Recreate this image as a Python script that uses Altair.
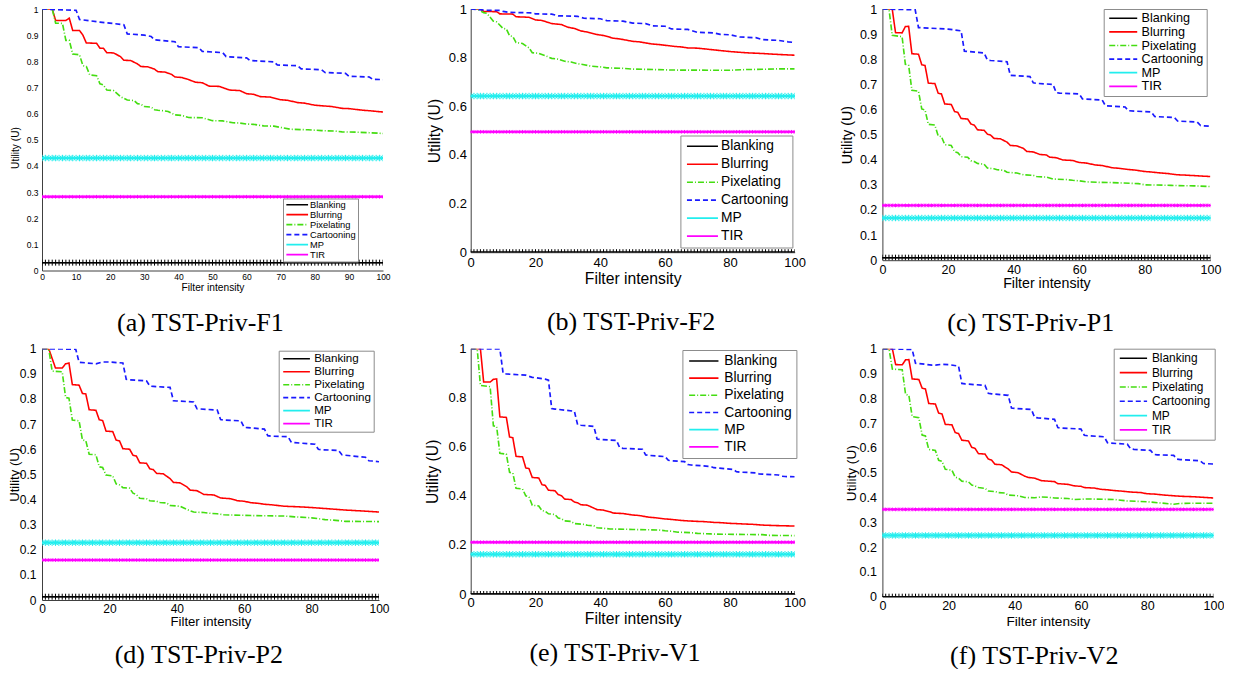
import math
import altair as alt
import pandas as pd

SANS = "Liberation Sans"
SERIF = "Liberation Serif"

SERIES = ["Blanking", "Blurring", "Pixelating", "Cartooning", "MP", "TIR"]
COLORS = ["#000000", "#ff0000", "#44dd11", "#1a1aff", "#22eeee", "#ff00ff"]
DASHES = [[1, 0], [1, 0], [6, 2, 1, 2], [5, 3], [1, 0], [1, 0]]
WIDTHS = [1.5, 1.8, 1.1, 1.2, 1.5, 1.5]

X_GRID = list(range(0, 101))
X_TICKS_10 = [0, 10, 20, 30, 40, 50, 60, 70, 80, 90, 100]
X_TICKS_20 = [0, 20, 40, 60, 80, 100]
Y_TICKS_01 = [0, 0.1, 0.2, 0.3, 0.4, 0.5, 0.6, 0.7, 0.8, 0.9, 1]
Y_TICKS_02 = [0, 0.2, 0.4, 0.6, 0.8, 1]

CAPTIONS = ["(a) TST-Priv-F1", "(b) TST-Priv-F2", "(c) TST-Priv-P1",
            "(d) TST-Priv-P2", "(e) TST-Priv-V1", "(f) TST-Priv-V2"]

# constant series: Blanking, MP, TIR per panel
BLANK = [0.03, 0.0, 0.01, 0.013, 0.0, 0.0]
MP = [0.43, 0.642, 0.168, 0.228, 0.162, 0.247]
TIR = [0.282, 0.495, 0.218, 0.159, 0.211, 0.352]

# ---- panel (a)
A_BLUR = [(0,1.0),(3,1.0),(4,0.956),(7,0.956),(8,0.965),(9,0.918),(11,0.918),(12,0.9),(13,0.87),(16,0.869),(17,0.85),(18,0.85),(19,0.833),(21,0.832),(23,0.818),(24,0.804),(26,0.803),(28,0.79),(29,0.78),(31,0.779),(33,0.77),(34,0.76),(36,0.759),(38,0.75),(39,0.74),(41,0.738),(43,0.73),(45,0.72),(47,0.718),(49,0.705),(52,0.704),(55,0.69),(58,0.688),(60,0.676),(62,0.674),(64,0.665),(67,0.663),(70,0.653),(72,0.651),(75,0.642),(77,0.64),(80,0.632),(82,0.63),(85,0.627),(88,0.62),(90,0.619),(94,0.613),(96,0.611),(100,0.606)]
A_PIX = [(0,1.0),(3,1.0),(4,0.946),(6,0.945),(7,0.88),(8,0.88),(9,0.828),(11,0.825),(12,0.783),(13,0.78),(14,0.748),(16,0.745),(17,0.714),(18,0.71),(19,0.69),(21,0.688),(23,0.665),(25,0.652),(27,0.65),(28,0.638),(29,0.636),(30,0.627),(32,0.625),(33,0.615),(34,0.613),(36,0.61),(37,0.608),(39,0.595),(41,0.593),(43,0.585),(47,0.584),(50,0.573),(53,0.572),(56,0.565),(58,0.564),(60,0.56),(62,0.559),(65,0.553),(68,0.552),(70,0.547),(73,0.54),(78,0.538),(82,0.535),(86,0.533),(88,0.53),(92,0.529),(96,0.527),(100,0.524)]
A_CART = [(0,1.0),(3,0.998),(10,0.995),(11,0.96),(17,0.95),(24,0.94),(25,0.905),(30,0.9),(32,0.895),(33,0.882),(39,0.875),(40,0.856),(46,0.852),(47,0.838),(53,0.833),(54,0.818),(60,0.813),(61,0.803),(68,0.798),(69,0.786),(75,0.783),(76,0.771),(82,0.768),(83,0.757),(89,0.754),(90,0.743),(96,0.74),(97,0.731),(100,0.73)]

# ---- panel (b)
B_BLUR = [(0,1.0),(3,1.0),(4,0.99),(8,0.989),(9,0.98),(13,0.979),(14,0.968),(18,0.966),(20,0.955),(22,0.953),(25,0.94),(28,0.936),(30,0.925),(32,0.92),(34,0.91),(36,0.905),(39,0.895),(41,0.891),(44,0.88),(46,0.877),(50,0.867),(52,0.865),(56,0.856),(58,0.854),(63,0.846),(65,0.844),(67,0.84),(70,0.839),(75,0.832),(80,0.825),(85,0.82),(90,0.817),(95,0.813),(100,0.81)]
B_PIX = [(0,1.0),(2,1.0),(4,0.985),(5,0.982),(7,0.95),(8,0.947),(10,0.92),(11,0.918),(12,0.89),(13,0.887),(14,0.862),(16,0.858),(18,0.84),(19,0.82),(21,0.818),(23,0.808),(25,0.797),(27,0.794),(29,0.785),(31,0.782),(33,0.775),(35,0.771),(37,0.765),(40,0.762),(42,0.758),(47,0.756),(50,0.753),(60,0.75),(62,0.749),(80,0.748),(85,0.751),(90,0.752),(95,0.754),(100,0.754)]
B_CART = [(0,1.0),(5,0.995),(9,0.994),(10,0.99),(12,0.986),(19,0.984),(20,0.98),(25,0.979),(27,0.972),(33,0.97),(35,0.962),(40,0.96),(42,0.952),(47,0.95),(50,0.942),(54,0.94),(56,0.931),(60,0.929),(62,0.918),(67,0.916),(70,0.904),(75,0.902),(77,0.896),(80,0.894),(83,0.885),(88,0.882),(90,0.874),(95,0.871),(98,0.865),(100,0.862)]

# ---- panel (c)
C_BLUR = [(0,1.0),(3,1.0),(4,0.906),(6,0.905),(7,0.93),(8,0.931),(9,0.822),(11,0.82),(12,0.778),(13,0.775),(14,0.705),(16,0.703),(17,0.665),(18,0.662),(19,0.622),(21,0.62),(22,0.592),(23,0.588),(24,0.564),(26,0.562),(27,0.542),(28,0.538),(29,0.519),(31,0.517),(32,0.502),(33,0.498),(34,0.485),(36,0.483),(38,0.47),(39,0.457),(41,0.455),(43,0.445),(44,0.433),(46,0.431),(48,0.421),(50,0.419),(51,0.41),(53,0.408),(55,0.399),(58,0.397),(60,0.389),(62,0.387),(65,0.379),(67,0.377),(70,0.368),(72,0.366),(75,0.361),(77,0.359),(80,0.353),(82,0.351),(85,0.347),(87,0.345),(90,0.34),(92,0.339),(96,0.336),(100,0.333)]
C_PIX = [(0,1.0),(2,1.0),(3,0.895),(6,0.89),(7,0.78),(8,0.776),(9,0.676),(11,0.673),(12,0.602),(13,0.598),(14,0.541),(16,0.538),(17,0.495),(18,0.492),(19,0.46),(21,0.457),(22,0.432),(23,0.428),(24,0.412),(26,0.41),(27,0.396),(28,0.393),(29,0.385),(31,0.382),(32,0.367),(34,0.364),(35,0.36),(37,0.358),(38,0.35),(41,0.347),(43,0.34),(46,0.338),(47,0.333),(50,0.331),(52,0.323),(56,0.321),(58,0.318),(60,0.316),(62,0.312),(66,0.31),(70,0.309),(76,0.306),(78,0.305),(80,0.3),(88,0.298),(90,0.297),(95,0.296),(100,0.293)]
C_CART = [(0,1.0),(10,0.997),(11,0.926),(17,0.922),(20,0.92),(24,0.913),(25,0.832),(31,0.825),(32,0.797),(33,0.795),(38,0.79),(39,0.736),(45,0.731),(46,0.706),(47,0.704),(52,0.7),(53,0.667),(54,0.665),(60,0.662),(61,0.642),(67,0.638),(68,0.615),(74,0.61),(75,0.595),(82,0.59),(83,0.572),(89,0.568),(90,0.554),(96,0.55),(97,0.536),(100,0.533)]

# ---- panel (d)
D_BLUR = [(0,1.0),(2,1.0),(4,0.923),(6,0.923),(7,0.94),(8,0.943),(9,0.857),(11,0.855),(12,0.822),(13,0.82),(14,0.757),(16,0.755),(17,0.717),(18,0.714),(19,0.672),(21,0.67),(22,0.636),(23,0.633),(24,0.602),(26,0.6),(27,0.576),(28,0.573),(29,0.546),(31,0.544),(32,0.522),(33,0.519),(34,0.504),(36,0.502),(38,0.483),(39,0.468),(41,0.466),(43,0.45),(44,0.437),(46,0.435),(48,0.42),(51,0.418),(53,0.406),(56,0.403),(58,0.395),(60,0.393),(62,0.387),(64,0.385),(66,0.381),(68,0.379),(72,0.373),(76,0.371),(80,0.368),(85,0.363),(90,0.358),(94,0.355),(100,0.35)]
D_PIX = [(0,1.0),(2,1.0),(3,0.911),(6,0.908),(7,0.806),(8,0.803),(9,0.716),(11,0.713),(12,0.637),(13,0.634),(14,0.58),(16,0.578),(17,0.53),(18,0.527),(19,0.497),(21,0.494),(22,0.462),(23,0.458),(24,0.447),(26,0.445),(27,0.425),(28,0.42),(29,0.405),(31,0.403),(32,0.395),(34,0.393),(35,0.388),(37,0.386),(38,0.376),(41,0.373),(43,0.36),(45,0.35),(48,0.348),(50,0.345),(52,0.343),(54,0.339),(60,0.337),(62,0.336),(72,0.334),(75,0.331),(80,0.327),(84,0.32),(88,0.316),(90,0.313),(100,0.312)]
D_CART = [(0,1.0),(10,0.998),(11,0.946),(16,0.94),(18,0.947),(20,0.947),(24,0.943),(25,0.878),(26,0.876),(31,0.872),(32,0.851),(33,0.85),(38,0.846),(39,0.793),(40,0.792),(45,0.788),(46,0.761),(47,0.76),(52,0.756),(53,0.718),(54,0.716),(59,0.713),(60,0.687),(61,0.686),(66,0.68),(67,0.654),(68,0.652),(73,0.65),(74,0.627),(75,0.626),(81,0.62),(82,0.6),(83,0.598),(88,0.595),(89,0.578),(90,0.576),(96,0.568),(97,0.554),(98,0.553),(100,0.55)]

# ---- panel (e)
E_BLUR = [(0,1.0),(3,1.0),(4,0.864),(6,0.864),(7,0.875),(8,0.877),(9,0.722),(11,0.72),(12,0.64),(13,0.637),(14,0.561),(16,0.559),(17,0.514),(18,0.511),(19,0.475),(21,0.473),(22,0.446),(23,0.443),(24,0.423),(26,0.421),(27,0.405),(28,0.401),(29,0.387),(31,0.385),(32,0.375),(33,0.372),(34,0.364),(36,0.362),(38,0.35),(39,0.344),(41,0.342),(43,0.335),(44,0.33),(47,0.328),(50,0.322),(52,0.32),(55,0.313),(57,0.311),(60,0.306),(62,0.304),(65,0.3),(67,0.298),(70,0.296),(72,0.295),(75,0.292),(77,0.291),(80,0.288),(82,0.287),(85,0.285),(87,0.284),(90,0.281),(94,0.279),(100,0.277)]
E_PIX = [(0,1.0),(2,1.0),(3,0.85),(6,0.845),(7,0.686),(8,0.683),(9,0.574),(11,0.57),(12,0.496),(13,0.493),(14,0.431),(16,0.428),(17,0.4),(18,0.396),(19,0.362),(21,0.359),(22,0.34),(23,0.337),(24,0.327),(26,0.324),(27,0.31),(28,0.307),(29,0.298),(31,0.296),(32,0.287),(35,0.284),(36,0.28),(38,0.278),(39,0.27),(41,0.268),(43,0.265),(48,0.264),(50,0.263),(58,0.261),(60,0.258),(62,0.256),(64,0.252),(68,0.25),(70,0.247),(74,0.245),(76,0.244),(90,0.242),(92,0.239),(100,0.238)]
E_CART = [(0,1.0),(9,0.999),(10,0.9),(11,0.897),(17,0.892),(19,0.883),(20,0.882),(23,0.876),(24,0.872),(25,0.756),(26,0.754),(32,0.745),(33,0.69),(34,0.688),(38,0.683),(39,0.632),(40,0.63),(45,0.626),(46,0.596),(47,0.594),(53,0.59),(54,0.567),(55,0.565),(60,0.56),(61,0.545),(62,0.543),(66,0.54),(67,0.528),(68,0.526),(74,0.52),(75,0.515),(81,0.508),(82,0.499),(83,0.497),(88,0.494),(89,0.49),(90,0.489),(95,0.485),(96,0.48),(97,0.479),(100,0.478)]

# ---- panel (f)
F_BLUR = [(0,1.0),(3,1.0),(4,0.936),(6,0.935),(7,0.955),(8,0.956),(9,0.878),(11,0.876),(12,0.841),(13,0.838),(14,0.779),(16,0.777),(17,0.74),(18,0.737),(19,0.695),(21,0.693),(22,0.662),(23,0.658),(24,0.631),(26,0.628),(27,0.602),(28,0.598),(29,0.577),(31,0.575),(32,0.555),(33,0.551),(34,0.534),(36,0.532),(38,0.515),(39,0.503),(41,0.5),(43,0.486),(44,0.481),(46,0.478),(48,0.468),(52,0.464),(53,0.456),(56,0.453),(58,0.447),(60,0.445),(61,0.44),(64,0.438),(66,0.433),(68,0.431),(70,0.428),(72,0.426),(75,0.422),(78,0.42),(80,0.415),(82,0.414),(85,0.41),(87,0.408),(90,0.405),(94,0.403),(100,0.398)]
F_PIX = [(0,1.0),(2,1.0),(3,0.918),(6,0.915),(7,0.816),(8,0.812),(9,0.726),(11,0.722),(12,0.652),(13,0.648),(14,0.594),(16,0.59),(17,0.55),(18,0.546),(19,0.514),(21,0.51),(22,0.482),(23,0.478),(24,0.466),(26,0.463),(27,0.45),(28,0.447),(29,0.44),(31,0.437),(32,0.426),(34,0.424),(35,0.42),(37,0.418),(38,0.41),(41,0.407),(43,0.4),(46,0.399),(48,0.402),(50,0.401),(52,0.398),(56,0.396),(58,0.392),(60,0.393),(62,0.394),(70,0.392),(74,0.386),(80,0.383),(84,0.378),(88,0.373),(90,0.376),(95,0.377),(100,0.377)]
F_CART = [(0,1.0),(9,0.997),(10,0.941),(11,0.94),(15,0.934),(16,0.934),(18,0.937),(20,0.936),(23,0.93),(24,0.86),(25,0.858),(31,0.852),(32,0.82),(33,0.818),(38,0.812),(39,0.761),(40,0.759),(45,0.755),(46,0.723),(47,0.721),(52,0.715),(53,0.682),(54,0.68),(60,0.676),(61,0.651),(62,0.649),(67,0.645),(68,0.621),(69,0.619),(74,0.615),(75,0.596),(76,0.594),(81,0.59),(82,0.574),(83,0.572),(88,0.57),(89,0.555),(90,0.553),(96,0.548),(97,0.537),(100,0.535)]

CURVES = [(A_BLUR, A_PIX, A_CART), (B_BLUR, B_PIX, B_CART), (C_BLUR, C_PIX, C_CART),
          (D_BLUR, D_PIX, D_CART), (E_BLUR, E_PIX, E_CART), (F_BLUR, F_PIX, F_CART)]

# ---- layout / style settings per panel (not data)
LAYOUT = [
    dict(w=341, h=261.5, xt=X_TICKS_10, yt=Y_TICKS_01, tfs=8.5, afs=10.2, xlp=2, xtp=1, ylp=4, nb=0,
         ttx=-26.3, tty=138.5, lx=241, ly=189.5, lfs=9.3, rp=0, lpad=1.5, gap=2.6, sym=21.7,
         cap_off=38.7, cap_dx=0),
    dict(w=324, h=243.2, xt=X_TICKS_20, yt=Y_TICKS_02, tfs=13, afs=15.7, xlp=4, xtp=2, ylp=4.3, nb=5,
         ttx=-36, tty=None, lx=209.7, ly=126.5, lfs=13.8, rp=3.0, lpad=3.8, gap=3, sym=31,
         cap_off=44, cap_dx=15),
    dict(w=328, h=251.2, xt=X_TICKS_20, yt=Y_TICKS_01, tfs=12.5, afs=14.2, xlp=3, xtp=1, ylp=5.6, nb=5,
         ttx=-34.7, tty=None, lx=221.3, ly=0, lfs=12.6, rp=0.6, lpad=3, gap=4.3, sym=28,
         cap_off=40, cap_dx=0),
    dict(w=337, h=251.3, xt=X_TICKS_20, yt=Y_TICKS_01, tfs=12, afs=13.1, xlp=3.5, xtp=1, ylp=6, nb=4,
         ttx=-27.3, tty=None, lx=236.7, ly=2, lfs=11.6, rp=0, lpad=2.2, gap=4, sym=26.7,
         cap_off=34, cap_dx=0),
    dict(w=324, h=245.3, xt=X_TICKS_20, yt=Y_TICKS_02, tfs=13, afs=15.7, xlp=2, xtp=2, ylp=4.6, nb=5,
         ttx=-38.3, tty=None, lx=211.7, ly=1.3, lfs=13.8, rp=2.2, lpad=4, gap=5.7, sym=29.3,
         cap_off=35, cap_dx=0),
    dict(w=331, h=248, xt=X_TICKS_20, yt=Y_TICKS_01, tfs=12.5, afs=13.6, xlp=3, xtp=2, ylp=6, nb=4,
         ttx=-30.7, tty=None, lx=231.3, ly=0, lfs=11.9, rp=1.3, lpad=3.7, gap=4.3, sym=27.3,
         cap_off=36, cap_dx=0),
]

PLUS = "M-1,0L1,0M0,-1L0,1"
STAR = "M-1,0L1,0M0,-1L0,1M-0.7,-0.7L0.7,0.7M-0.7,0.7L0.7,-0.7"
AXIS_COLOR = "#404040"


def make_panel(i):
    cfg = LAYOUT[i]
    blur, pix, cart = CURVES[i]
    recs = []
    for x in X_GRID:
        recs.append({"x": x, "y": BLANK[i], "series": "Blanking"})
    for name, pts in (("Blurring", blur), ("Pixelating", pix), ("Cartooning", cart)):
        for x, y in pts:
            recs.append({"x": x, "y": y, "series": name})
    for name, val in (("MP", MP[i]), ("TIR", TIR[i])):
        for x in X_GRID:
            recs.append({"x": x, "y": val, "series": name})
    df = pd.DataFrame(recs)

    pad = "\u00a0" * cfg["nb"]
    if cfg["nb"]:
        label_expr = f"datum.value == 0 || datum.value == 1 ? datum.label : datum.label + '{pad}'"
    else:
        label_expr = "datum.label"

    xax = alt.Axis(values=cfg["xt"], format="d", title="Filter intensity",
                   labelFontSize=cfg["tfs"], titleFontSize=cfg["afs"], labelFont=SANS, titleFont=SANS,
                   titleFontWeight="normal", labelColor="black", titleColor="black", grid=False,
                   ticks=False, tickSize=0, domainColor=AXIS_COLOR, domainWidth=1,
                   labelPadding=cfg["xlp"], titlePadding=cfg["xtp"], labelFlush=False, labelOverlap=False)
    tty = cfg["tty"] if cfg["tty"] is not None else cfg["h"] / 2
    yax = alt.Axis(values=cfg["yt"], format="~g", labelExpr=label_expr, title="Utility (U)",
                   labelFontSize=cfg["tfs"], titleFontSize=cfg["afs"], labelFont=SANS, titleFont=SANS,
                   titleFontWeight="normal", labelColor="black", titleColor="black", grid=False,
                   ticks=False, tickSize=0, domainColor=AXIS_COLOR, domainWidth=1,
                   labelPadding=cfg["ylp"], labelFlush=False, labelOverlap=False,
                   titleX=cfg["ttx"], titleY=tty, titleAngle=270, titleBaseline="middle", titleAlign="center")
    xenc = alt.X("x:Q", scale=alt.Scale(domain=[0, 100], nice=False, zero=False), axis=xax)
    yenc = alt.Y("y:Q", scale=alt.Scale(domain=[0, 1], nice=False), axis=yax)

    # legend symbol: long horizontal stroke drawn by a custom path, row height kept to the font size
    r = cfg["lfs"] * 0.6
    L = cfg["sym"]
    k = L / r
    sym_path = f"M{-k:.4f},0L{k:.4f},0"
    sym_off = (L - r) / 2
    lab_off = L + cfg["gap"] - sym_off - math.ceil(r + max(WIDTHS))
    leg = alt.Legend(title=None, orient="none", legendX=cfg["lx"], legendY=cfg["ly"], direction="vertical",
                     symbolType=sym_path, symbolSize=r * r, symbolOffset=sym_off,
                     labelOffset=lab_off, labelFontSize=cfg["lfs"], labelFont=SANS,
                     labelColor="black", rowPadding=cfg["rp"], columnPadding=0, padding=cfg["lpad"],
                     fillColor="white", strokeColor="#8c8c8c", cornerRadius=0, labelLimit=300)

    lines = alt.Chart(df).mark_line(clip=True).encode(
        x=xenc, y=yenc,
        color=alt.Color("series:N", scale=alt.Scale(domain=SERIES, range=COLORS), legend=leg),
        strokeDash=alt.StrokeDash("series:N", scale=alt.Scale(domain=SERIES, range=DASHES), legend=leg),
        strokeWidth=alt.StrokeWidth("series:N", scale=alt.Scale(domain=SERIES, range=WIDTHS), legend=leg),
        detail="series:N",
    )

    def markers(name, shape, size, color):
        sub = df[df["series"] == name]
        return alt.Chart(sub).mark_point(shape=shape, size=size, filled=False, strokeWidth=1,
                                         color=color, opacity=1, clip=True).encode(x=xenc, y=yenc)

    layer = alt.layer(
        lines,
        markers("Blanking", PLUS, 36, "#000000"),
        markers("MP", STAR, 42, COLORS[4]),
        markers("TIR", STAR, 14, COLORS[5]),
    ).properties(
        width=cfg["w"], height=cfg["h"],
        title=alt.TitleParams(text=CAPTIONS[i], orient="bottom", anchor="middle", frame="bounds",
                              font=SERIF, fontSize=26, fontWeight="normal", color="black",
                              offset=cfg["cap_off"], dx=cfg["cap_dx"], baseline="alphabetic"),
    )
    return layer


panels = [make_panel(i) for i in range(6)]

chart = alt.concat(
    *panels, columns=3, spacing={"row": 77.7, "column": 87.7}, bounds="flush", align="each"
).resolve_scale(
    color="independent", strokeDash="independent", strokeWidth="independent"
).resolve_legend(
    color="independent", strokeDash="independent", strokeWidth="independent"
).properties(
    padding={"left": 8, "top": 3, "right": 0, "bottom": 0},
    background="white",
).configure_view(stroke=None)

chart.save("out.html", embed_options={"renderer": "svg", "actions": False})
